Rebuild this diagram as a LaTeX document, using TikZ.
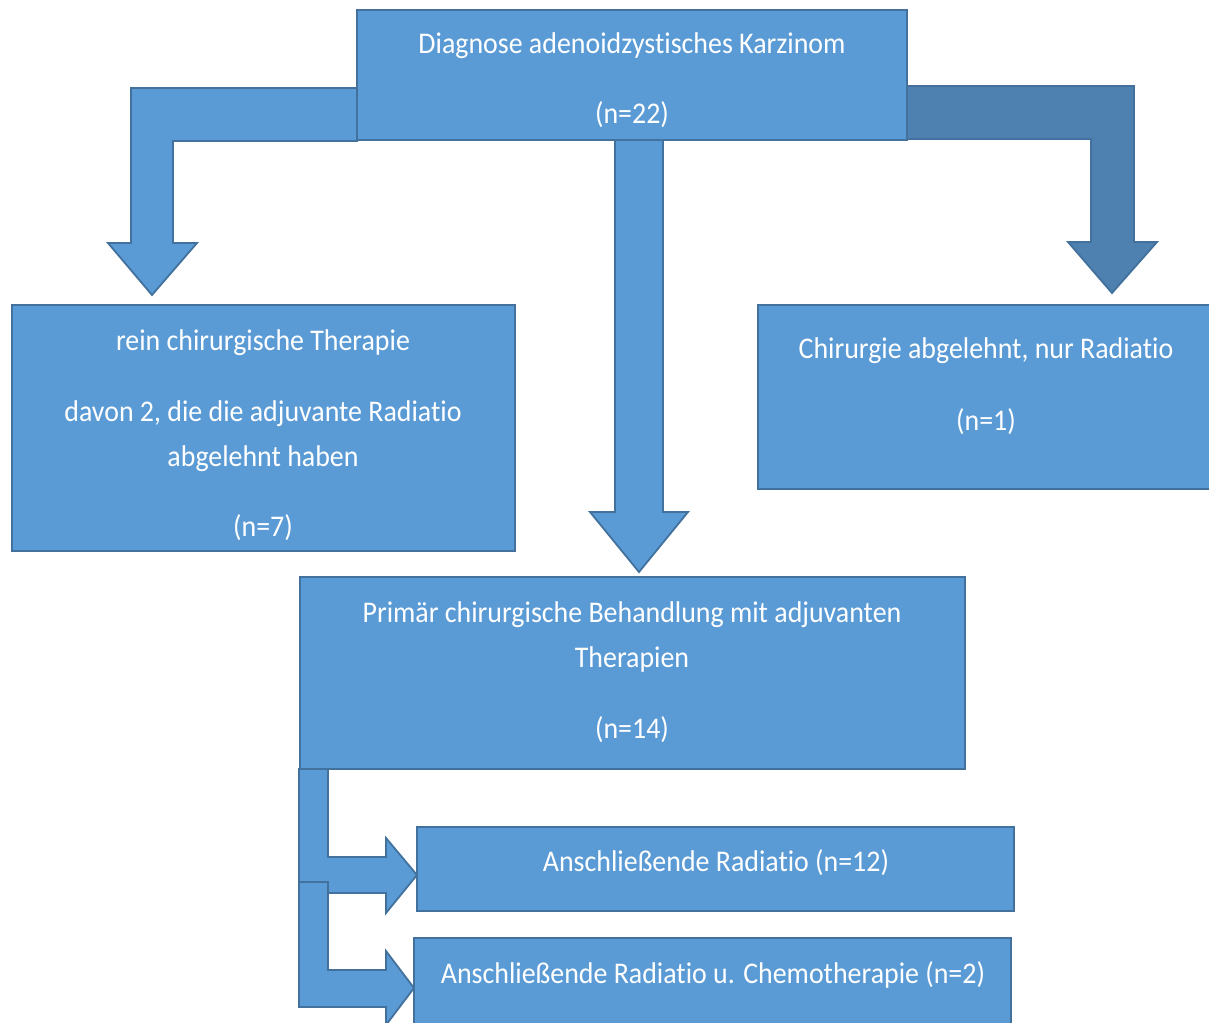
\documentclass[tikz,border=0pt]{standalone}
\usepackage{fontspec}
\newfontfamily\boxfont[FakeStretch=0.93,Ligatures={NoCommon,NoContextual}]{Carlito}
\usetikzlibrary{backgrounds,calc}
\definecolor{boxblue}{HTML}{5B9BD5}
\definecolor{edgeblue}{HTML}{41719C}
\definecolor{darkarrow}{HTML}{4E80B0}
\begin{document}
\begin{tikzpicture}[x=1pt,y=-1pt,
  box/.style={draw=edgeblue, fill=boxblue, line width=1.8pt, rectangle, inner sep=0pt, outer sep=0pt},
  txt/.style={text=white, font=\boxfont\fontsize{30}{30}\selectfont, anchor=base, inner sep=0pt},
  blockarrow/.style={draw=edgeblue, fill=boxblue, line width=1.8pt, line join=miter},
  darkblock/.style={draw=edgeblue, fill=darkarrow, line width=1.8pt, line join=miter}]
\useasboundingbox (0,0) rectangle (1209,1022);
\clip (0,0) rectangle (1209,1022);
% boxes
\node[box, minimum width=550, minimum height=130] (diag) at (632,75) {};
\node[box, minimum width=503, minimum height=246] (chir) at (263.5,428) {};
\node[box, minimum width=456, minimum height=184] (rad) at (986,397) {};
\node[box, minimum width=665, minimum height=192] (prim) at (632.5,673) {};
\node[box, minimum width=597, minimum height=84] (ans1) at (715.5,869) {};
\node[box, minimum width=597, minimum height=92] (ans2) at (712.5,984) {};
% texts
\node[txt] (t1a) at (632,54) {Diagnose adenoidzystisches Karzinom};
\node[txt] (t1b) at (632,124) {(n=22)};
\node[txt] (t2a) at (263,350) {rein chirurgische Therapie};
\node[txt] (t2b) at (263,421) {davon 2, die die adjuvante Radiatio};
\node[txt] (t2c) at (263,466) {abgelehnt haben};
\node[txt] (t2d) at (263,536) {(n=7)};
\node[txt] (t3a) at (986,358) {Chirurgie abgelehnt, nur Radiatio};
\node[txt] (t3b) at (986,430) {(n=1)};
\node[txt] (t4a) at (632,622) {Primär chirurgische Behandlung mit adjuvanten};
\node[txt] (t4b) at (632,667) {Therapien};
\node[txt] (t4c) at (632,738) {(n=14)};
\node[txt] (t5) at (716,871) {Anschließende Radiatio (n=12)};
\node[txt] (t6) at (713,983) {Anschließende Radiatio u. Chemotherapie (n=2)};
% block arrows
\begin{pgfonlayer}{background}
\clip (0,0) rectangle (1209,1022);
\draw[blockarrow] (diag.west |- 0,88) -- (131,88) -- (131,243) -- (108,243)
  -- ($(chir.north -| 152,0)+(0,-10)$) -- (197,243) -- (173,243) -- (173,141) -- (diag.west |- 0,141) -- cycle;
\draw[darkblock] (diag.east |- 0,86) -- (1134,86) -- (1134,242) -- (1157,242)
  -- ($(rad.north -| 1112,0)+(0,-12)$) -- (1068,242) -- (1091,242) -- (1091,139) -- (diag.east |- 0,139) -- cycle;
\draw[blockarrow] (diag.south -| 615,0) -- (615,512) -- (590,512) -- ($(prim.north -| 639,0)+(0,-5)$)
  -- (688,512) -- (663,512) -- (diag.south -| 663,0) -- cycle;
\draw[blockarrow] (prim.south -| 299,0) -- (299,893) -- (386,893) -- (386,913)
  -- (ans1.west |- 0,875) -- (386,838) -- (386,857) -- (328,857) -- (prim.south -| 328,0) -- cycle;
\draw[blockarrow] (299,882) -- (299,1007) -- (386,1007) -- (386,1025)
  -- (ans2.west |- 0,988) -- (386,951) -- (386,970) -- (328,970) -- (328,882) -- cycle;
\end{pgfonlayer}
\end{tikzpicture}
\end{document}
